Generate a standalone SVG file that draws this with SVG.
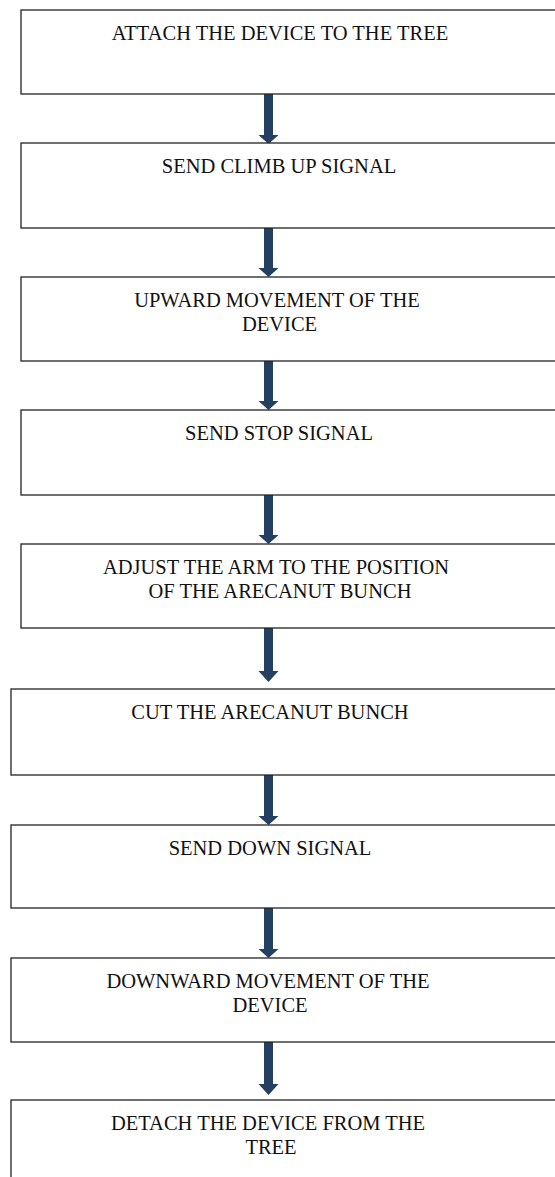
<svg xmlns="http://www.w3.org/2000/svg" width="555" height="1177" viewBox="0 0 555 1177">
<style>
.box{fill:#ffffff;stroke:#222222;stroke-width:1.3}
.t{font-family:"Liberation Serif","Times New Roman",serif;font-size:20.5px;fill:#111111;text-anchor:middle}
.arr{fill:#243f60}
</style>
<rect x="0" y="0" width="555" height="1177" fill="#ffffff"/>
<g id="connectors">
<polygon class="arr" points="264,94 273,94 273,135 278.5,135 268.5,144 258.5,135 264,135"/>
<polygon class="arr" points="264,228 273,228 273,268 278.5,268 268.5,277 258.5,268 264,268"/>
<polygon class="arr" points="264,361 273,361 273,401 278.5,401 268.5,410 258.5,401 264,401"/>
<polygon class="arr" points="264,495 273,495 273,535 278.5,535 268.5,544 258.5,535 264,535"/>
<polygon class="arr" points="264,627 273,627 273,671 278.5,671 268.5,682 258.5,671 264,671"/>
<polygon class="arr" points="264,775 273,775 273,816 278.5,816 268.5,825 258.5,816 264,816"/>
<polygon class="arr" points="264,908 273,908 273,949 278.5,949 268.5,958 258.5,949 264,949"/>
<polygon class="arr" points="264,1040 273,1040 273,1084 278.5,1084 268.5,1095 258.5,1084 264,1084"/>
</g>
<g id="n1"><rect class="box" x="21" y="10" width="545" height="84"/><text class="t" x="280" y="40">ATTACH THE DEVICE TO THE TREE</text></g>
<g id="n2"><rect class="box" x="21" y="143" width="545" height="85"/><text class="t" x="279" y="173">SEND CLIMB UP SIGNAL</text></g>
<g id="n3"><rect class="box" x="21" y="277" width="545" height="84"/><text class="t" x="277" y="307">UPWARD MOVEMENT OF THE</text><text class="t" x="279.5" y="331">DEVICE</text></g>
<g id="n4"><rect class="box" x="21" y="410" width="545" height="85"/><text class="t" x="279" y="440">SEND STOP SIGNAL</text></g>
<g id="n5"><rect class="box" x="21" y="544" width="545" height="84"/><text class="t" x="276" y="574">ADJUST THE ARM TO THE POSITION</text><text class="t" x="280" y="598">OF THE ARECANUT BUNCH</text></g>
<g id="n6"><rect class="box" x="11" y="689" width="555" height="86"/><text class="t" x="270" y="719">CUT THE ARECANUT BUNCH</text></g>
<g id="n7"><rect class="box" x="11" y="825" width="555" height="83"/><text class="t" x="270" y="855">SEND DOWN SIGNAL</text></g>
<g id="n8"><rect class="box" x="11" y="958" width="555" height="84"/><text class="t" x="268" y="988">DOWNWARD MOVEMENT OF THE</text><text class="t" x="270" y="1012">DEVICE</text></g>
<g id="n9"><rect class="box" x="11" y="1100" width="555" height="90"/><text class="t" x="268" y="1130">DETACH THE DEVICE FROM THE</text><text class="t" x="271" y="1154">TREE</text></g>
</svg>
